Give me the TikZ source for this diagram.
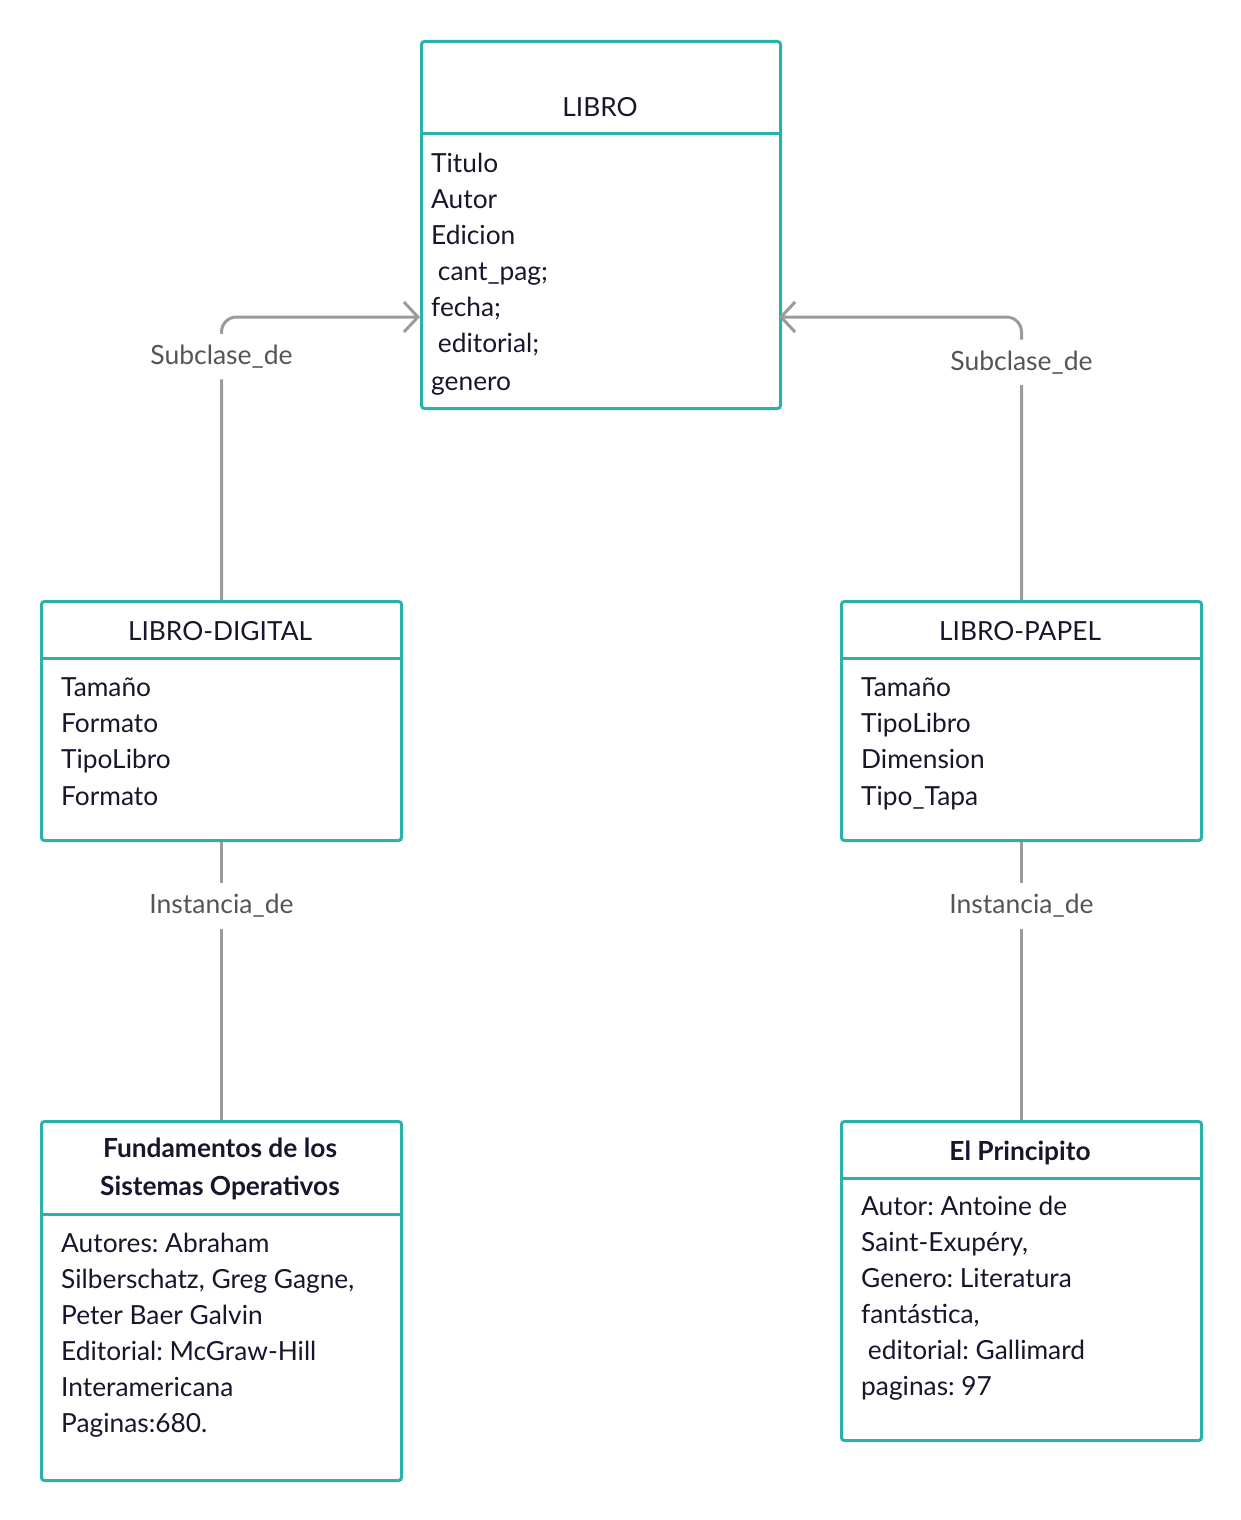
\documentclass[tikz,border=0pt]{standalone}
\usepackage{fontspec}
\setmainfont{Lato}
\usetikzlibrary{arrows.meta}
\definecolor{umlteal}{RGB}{42,177,170}
\definecolor{linkgray}{RGB}{155,155,155}
\definecolor{labelgray}{RGB}{85,85,85}
\definecolor{inkdark}{RGB}{22,22,45}
\tikzset{
  umlbox/.style={draw=umlteal, line width=3pt, rounded corners=3pt, anchor=north west,
    inner sep=0pt, fill=white},
  divider/.style={draw=umlteal, line width=3pt},
  hdr/.style={anchor=base, inner sep=0pt, text=inkdark, font=\fontsize{26.3}{36}\selectfont},
  hdrbold/.style={anchor=base, inner sep=0pt, text=inkdark, align=center,
    font=\fontsize{26.3}{38}\selectfont\bfseries},
  attrs/.style={anchor=north west, inner sep=0pt, text=inkdark, align=left,
    font=\fontsize{26.3}{36}\selectfont},
  conn/.style={draw=linkgray, line width=3pt},
  lbl/.style={fill=white, text=labelgray, inner xsep=4pt, inner ysep=11pt,
    font=\fontsize{26.5}{30}\selectfont},
  openhead/.style={-{Straight Barb[length=14pt,width=30pt,line width=3pt]}},
}
\newcommand{\firstline}{\rule{0pt}{22pt}}
\frenchspacing
\begin{document}
\begin{tikzpicture}[x=1pt,y=-1pt]
\useasboundingbox (0,0) rectangle (1240,1520);

% class boxes
\node[umlbox, minimum width=359pt, minimum height=367pt] (libro) at (420,40) {};
\node[umlbox, minimum width=360pt, minimum height=239pt] (digital) at (40,600) {};
\node[umlbox, minimum width=360pt, minimum height=239pt] (papel) at (840,600) {};
\node[umlbox, minimum width=360pt, minimum height=359pt] (fundamentos) at (40,1120) {};
\node[umlbox, minimum width=360pt, minimum height=319pt] (principito) at (840,1120) {};

% header separators
\draw[divider] (420,133) -- (779,133);
\draw[divider] (40,658) -- (400,658);
\draw[divider] (840,658) -- (1200,658);
\draw[divider] (40,1214) -- (400,1214);
\draw[divider] (840,1178) -- (1200,1178);

% headers (a multi-line node sits on the baseline of its last line)
\node[hdr] (libroT) at (600,116) {LIBRO};
\node[hdr] (digitalT) at (220,640) {LIBRO-DIGITAL};
\node[hdr] (papelT) at (1020,640) {LIBRO-PAPEL};
\node[hdrbold] (fundT) at (220,1195) {Fundamentos de los\\Sistemas Operativos};
\node[hdrbold] (prinT) at (1020,1160) {El Principito};

% attributes
\node[attrs] (libroA) at (431,150) {\firstline Titulo\\Autor\\Edicion\\\ cant\_pag;\\fecha;\\\ editorial;\\[2pt]genero};
\node[attrs] (digitalA) at (61,674) {\firstline Tamaño\\Formato\\TipoLibro\\[1pt]Formato};
\node[attrs] (papelA) at (861,674) {\firstline Tamaño\\TipoLibro\\Dimension\\[1pt]Tipo\_Tapa};
\node[attrs] (fundA) at (61,1230) {\firstline Autores: Abraham\\Silberschatz, Greg Gagne,\\Peter Baer Galvin\\Editorial: McGraw-Hill\\Interamericana\\Paginas:680.};
\node[attrs] (prinA) at (861,1193) {\firstline Autor: Antoine de\\Saint-Exupéry,\\Genero: Literatura\\fantástica,\\\ editorial: Gallimard\\paginas: 97};

% connector ends on the superclass
\coordinate (inL) at (420,317);
\coordinate (inR) at (779,317);

% subclass links
\draw[conn, openhead, rounded corners=15pt] (digital.north) |- node[lbl, pos=0.43] {Subclase\_de} (inL);
\draw[conn, openhead, rounded corners=15pt] (papel.north) |- node[lbl, pos=0.42] {Subclase\_de} (inR);

% instance links
\draw[conn] (digital.south) -- node[lbl, pos=0.23] {Instancia\_de} (fundamentos.north);
\draw[conn] (papel.south) -- node[lbl, pos=0.23] {Instancia\_de} (principito.north);
\end{tikzpicture}
\end{document}
